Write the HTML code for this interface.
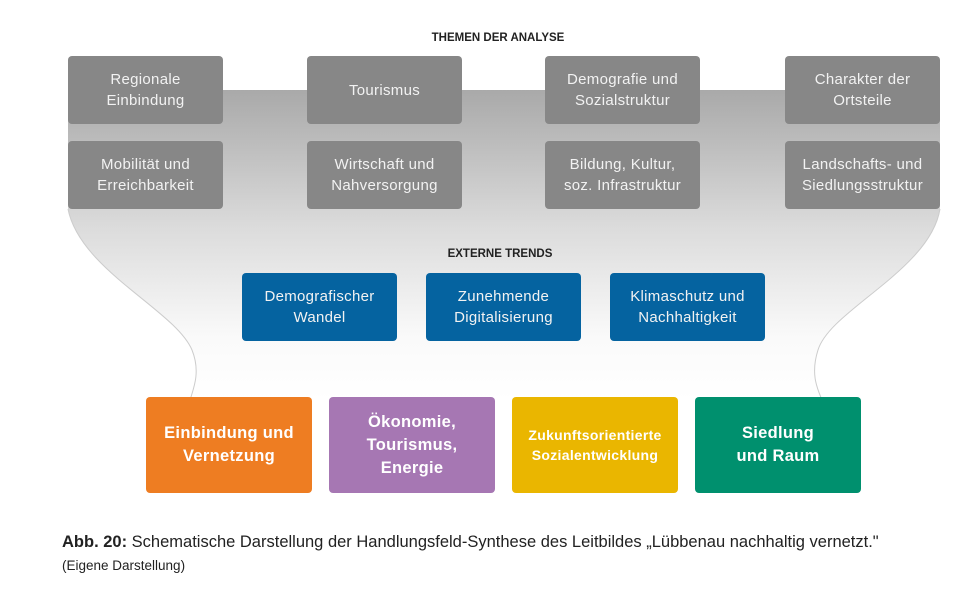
<!DOCTYPE html>
<html><head><meta charset="utf-8"><style>
body{margin:0;width:976px;height:600px;background:#fff;position:relative;font-family:"Liberation Sans",sans-serif;overflow:hidden}
.b{position:absolute;display:flex;align-items:center;justify-content:center;text-align:center;border-radius:4px;color:#f2f2f2;font-size:15px;line-height:21px;letter-spacing:0.3px}
.g{background:#878787;width:155px;height:68px}
.bl{background:#0563a0;width:155px;height:68px}
.c{width:166px;height:96px;font-weight:bold;color:#fff;font-size:16.5px;line-height:23px}
.h{position:absolute;font-weight:bold;font-size:11.5px;color:#222;width:976px;text-align:center;left:17px}
</style></head><body>
<svg width="976" height="600" style="position:absolute;left:0;top:0">
<defs><linearGradient id="gr" x1="0" y1="0" x2="0" y2="1">
<stop offset="0" stop-color="#a9a9a9"/><stop offset="0.45" stop-color="#dcdcdc"/><stop offset="0.8" stop-color="#fafafa"/><stop offset="1" stop-color="#fff"/></linearGradient></defs>
<path d="M68 90 L940 90 L940 209 C930 270 830 310 818 350 C810 375 818 390 822 400 L190 400 C195 385 200 370 192 350 C175 310 80 270 68 209 Z" fill="url(#gr)"/>
<path d="M68 209 C80 270 175 310 192 350 C200 370 195 385 190 400" fill="none" stroke="#ccc" stroke-width="1"/>
<path d="M940 209 C930 270 830 310 818 350 C810 375 818 390 822 400" fill="none" stroke="#ccc" stroke-width="1"/>
</svg>
<div class="h" style="top:32px;left:10px">THEMEN DER ANALYSE</div>
<div class="b g" style="left:68px;top:56px">Regionale<br>Einbindung</div>
<div class="b g" style="left:307px;top:56px">Tourismus</div>
<div class="b g" style="left:545px;top:56px">Demografie und<br>Sozialstruktur</div>
<div class="b g" style="left:785px;top:56px">Charakter der<br>Ortsteile</div>
<div class="b g" style="left:68px;top:141px">Mobilität und<br>Erreichbarkeit</div>
<div class="b g" style="left:307px;top:141px">Wirtschaft und<br>Nahversorgung</div>
<div class="b g" style="left:545px;top:141px">Bildung, Kultur,<br>soz. Infrastruktur</div>
<div class="b g" style="left:785px;top:141px">Landschafts- und<br>Siedlungsstruktur</div>
<div class="h" style="top:248px;left:12px">EXTERNE TRENDS</div>
<div class="b bl" style="left:242px;top:273px">Demografischer<br>Wandel</div>
<div class="b bl" style="left:426px;top:273px">Zunehmende<br>Digitalisierung</div>
<div class="b bl" style="left:610px;top:273px">Klimaschutz und<br>Nachhaltigkeit</div>
<div class="b c" style="left:146px;top:397px;background:#ee7d22">Einbindung und<br>Vernetzung</div>
<div class="b c" style="left:329px;top:397px;background:#a677b3">Ökonomie,<br>Tourismus,<br>Energie</div>
<div class="b c" style="left:512px;top:397px;background:#eab600;font-size:14px;line-height:20px">Zukunftsorientierte<br>Sozialentwicklung</div>
<div class="b c" style="left:695px;top:397px;background:#00906e">Siedlung<br>und Raum</div>
<div style="position:absolute;left:62px;top:533px;font-size:16.5px;color:#222;white-space:nowrap"><b>Abb. 20:</b> Schematische Darstellung der Handlungsfeld-Synthese des Leitbildes „Lübbenau nachhaltig vernetzt."</div>
<div style="position:absolute;left:62px;top:558px;font-size:13.5px;color:#222">(Eigene Darstellung)</div>
</body></html>
